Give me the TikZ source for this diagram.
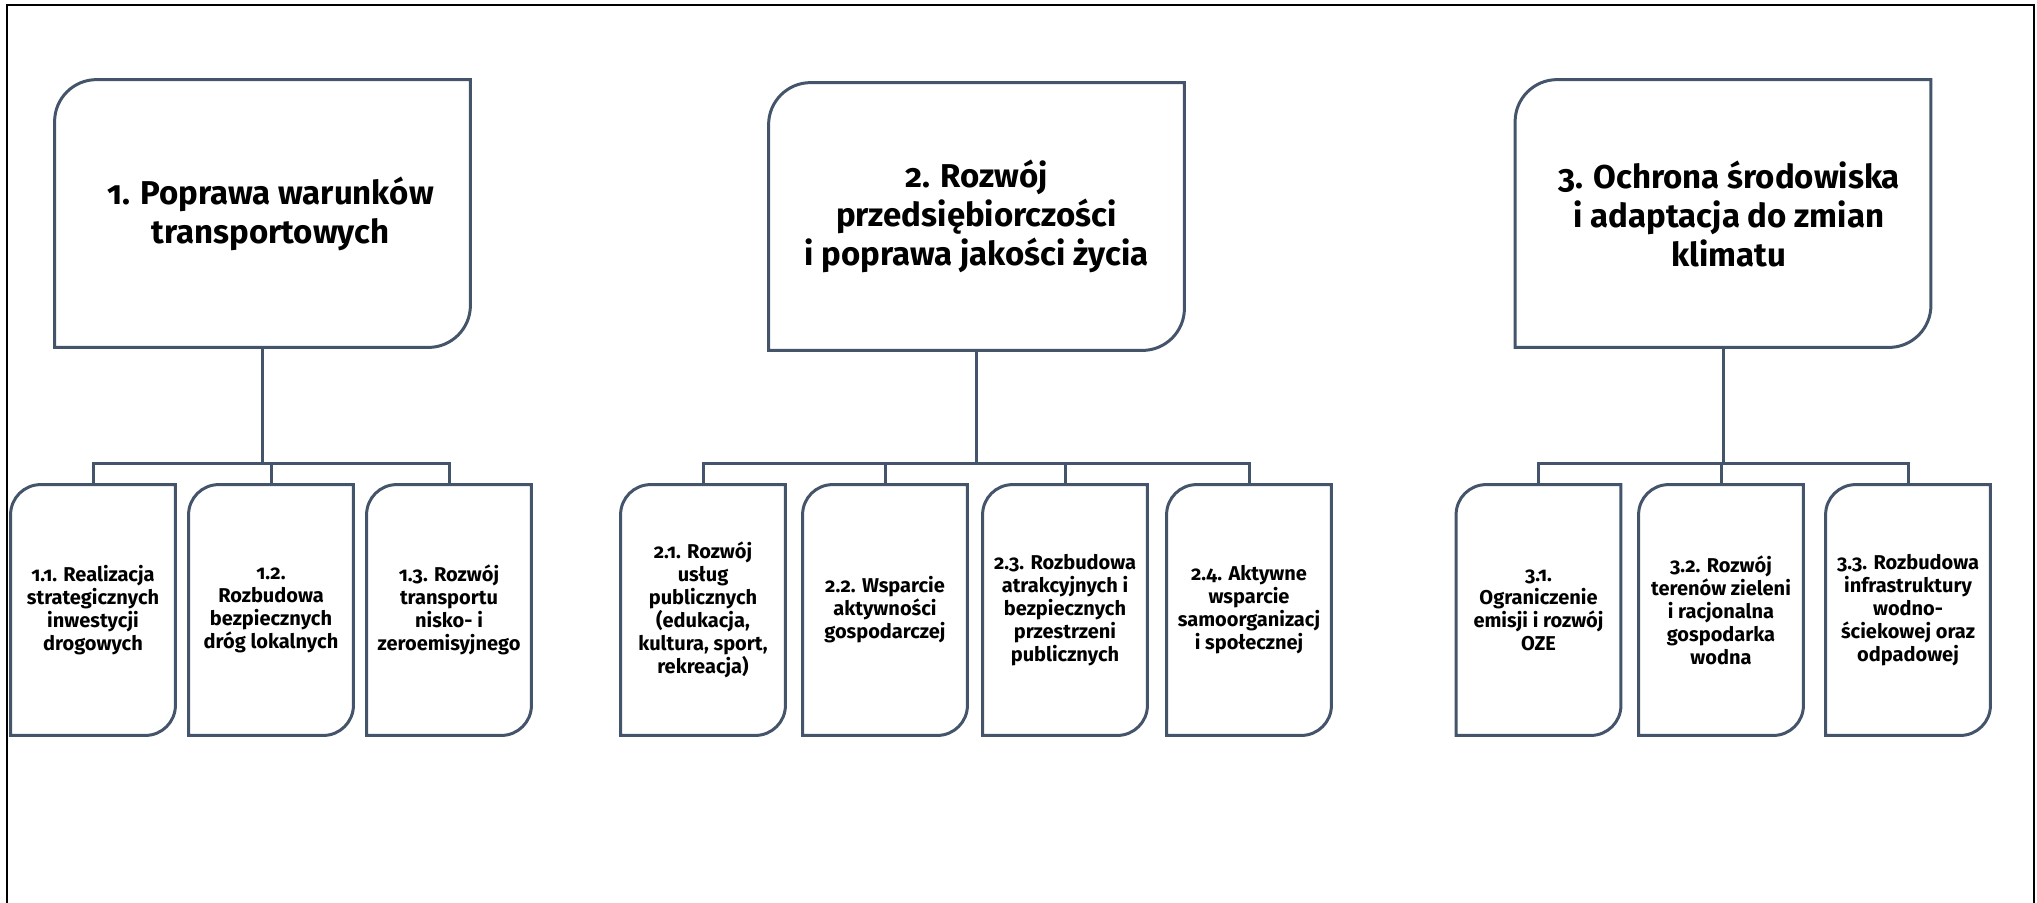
\documentclass[tikz,border=0pt]{standalone}
\usepackage{fontspec}
\setmainfont{Fira Sans}[RawFeature={+onum}]
\definecolor{boxcol}{HTML}{44546A}
\tikzset{
  mainbox/.style={minimum width=207.5pt, minimum height=133.5pt, inner sep=0pt, align=center,
    font=\bfseries\fontsize{16.5}{19.5}\selectfont},
  subbox/.style={minimum width=82pt, minimum height=125pt, inner sep=0pt, align=center,
    font=\bfseries\fontsize{10}{11.5}\selectfont},
  outline/.style={draw=boxcol, line width=1.5pt, line join=miter},
  conn/.style={draw=boxcol, line width=1.5pt},
  frameline/.style={draw=black, line width=1.1pt},
}
\newcommand{\drawbox}[2]{%
  \draw[outline] (#1.north east) -- ([yshift=#2]#1.south east)
    arc[start angle=0,end angle=-90,radius=#2] -- (#1.south west)
    -- ([yshift=-#2]#1.north west) arc[start angle=180,end angle=90,radius=#2] -- cycle;}
\begin{document}
\begin{tikzpicture}[x=0.5pt,y=-0.5pt]
\useasboundingbox (0,0) rectangle (2037,902);
\draw[frameline] (7,930) -- (7,5) -- (2034,5) -- (2034,930);

% main boxes
\node[mainbox] (m1) at (262.5,213.5) {\hspace*{8pt}1. Poprawa warunków\\\hspace*{8pt}transportowych};
\node[mainbox] (m2) at (976.5,216.5) {2. Rozwój\\przedsiębiorczości\\i poprawa jakości życia};
\node[mainbox] (m3) at (1723,213.5) {\hspace*{6pt}3. Ochrona środowiska\\\hspace*{6pt}i adaptacja do zmian\\\hspace*{6pt}klimatu};

% sub boxes
\node[subbox] (c11) at (93,610) {1.1. Realizacja\\strategicznych\\inwestycji\\drogowych};
\node[subbox] (c12) at (271,610) {1.2.\\Rozbudowa\\bezpiecznych\\dróg lokalnych};
\node[subbox] (c13) at (449,610) {1.3. Rozwój\\transportu\\nisko- i\\zeroemisyjnego};

\node[subbox] (c21) at (703,610) {2.1. Rozwój\\usług\\publicznych\\(edukacja,\\kultura, sport,\\rekreacja)};
\node[subbox] (c22) at (885,610) {2.2. Wsparcie\\aktywności\\gospodarczej};
\node[subbox] (c23) at (1065,610) {2.3. Rozbudowa\\atrakcyjnych i\\bezpiecznych\\przestrzeni\\publicznych};
\node[subbox] (c24) at (1249,610) {2.4. Aktywne\\wsparcie\\samoorganizacj\\i społecznej};

\node[subbox] (c31) at (1538.5,610) {3.1.\\Ograniczenie\\emisji i rozwój\\OZE};
\node[subbox] (c32) at (1721,610) {3.2. Rozwój\\terenów zieleni\\i racjonalna\\gospodarka\\wodna};
\node[subbox] (c33) at (1908,610) {3.3. Rozbudowa\\infrastruktury\\wodno-\\ściekowej oraz\\odpadowej};

\drawbox{m1}{21pt}\drawbox{m2}{21pt}\drawbox{m3}{21pt}
\drawbox{c11}{15pt}\drawbox{c12}{15pt}\drawbox{c13}{15pt}
\drawbox{c21}{15pt}\drawbox{c22}{15pt}\drawbox{c23}{15pt}\drawbox{c24}{15pt}
\drawbox{c31}{15pt}\drawbox{c32}{15pt}\drawbox{c33}{15pt}

% connector junctions
\coordinate (j1) at (264,463);
\coordinate (j2) at (975,463);
\coordinate (j3) at (1722,463);

\draw[conn] (m1.south) -- (m1.south |- j1);
\draw[conn] (c11.north) -- (c11.north |- j1) -- (c13.north |- j1) -- (c13.north);
\draw[conn] (c12.north) -- (c12.north |- j1);

\draw[conn] (m2.south) -- (m2.south |- j2);
\draw[conn] (c21.north) -- (c21.north |- j2) -- (c24.north |- j2) -- (c24.north);
\draw[conn] (c22.north) -- (c22.north |- j2);
\draw[conn] (c23.north) -- (c23.north |- j2);

\draw[conn] (m3.south) -- (m3.south |- j3);
\draw[conn] (c31.north) -- (c31.north |- j3) -- (c33.north |- j3) -- (c33.north);
\draw[conn] (c32.north) -- (c32.north |- j3);
\end{tikzpicture}
\end{document}
